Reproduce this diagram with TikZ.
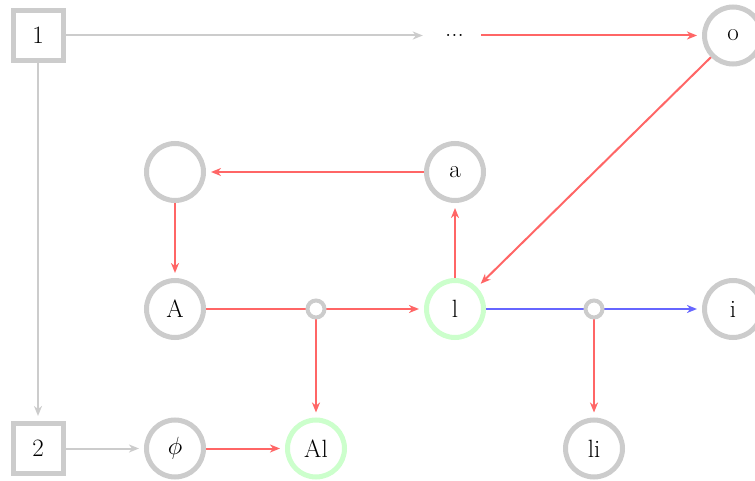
\documentclass[tikz,border=0pt]{standalone}
\usetikzlibrary{arrows.meta}
\definecolor{edgegray}{HTML}{CCCCCC}
\definecolor{flowred}{HTML}{FF6666}
\definecolor{flowblue}{HTML}{6666FF}
\definecolor{hilite}{HTML}{CCFFCC}
\begin{document}
\begin{tikzpicture}[x=1pt,y=-1pt,
  every node/.style={font=\fontsize{25}{30}\selectfont},
  state/.style={circle,draw=edgegray,line width=5pt,minimum size=57pt,inner sep=0pt,fill=white},
  goal/.style={state,draw=hilite},
  box/.style={rectangle,draw=edgegray,line width=5pt,minimum size=50pt,inner sep=0pt,fill=white},
  joint/.style={circle,draw=edgegray,line width=4pt,minimum size=17pt,inner sep=0pt,fill=white},
  plain/.style={circle,minimum size=53pt,inner sep=0pt},
  tip/.style={-{Stealth[length=10pt,width=8pt,inset=3pt]},shorten >=5pt},
  gline/.style={draw=edgegray,line width=2pt,tip},
  rline/.style={draw=flowred,line width=2pt,tip},
  bline/.style={draw=flowblue,line width=2pt,tip},
  rseg/.style={draw=flowred,line width=2pt},
  bseg/.style={draw=flowblue,line width=2pt}]
\useasboundingbox (0,0) rectangle (755,481);

% nodes
\node[box]   (n1)   at (38,35.5)  {1};
\node[plain] (dots) at (454.5,35.5) {...};
\node[state] (o)    at (733,35.5) {o};
\node[state] (e)    at (175,172)  {};
\node[state] (a)    at (455,172)  {a};
\node[state] (A)    at (175,309)  {A};
\node[goal]  (l)    at (455,309)  {l};
\node[state] (i)    at (733,309)  {i};
\node[box]   (n2)   at (38,448.5) {2};
\node[state] (phi)  at (175,448.5) {$\phi$};
\node[goal]  (Al)   at (316,448.5) {Al};
\node[state] (li)   at (594,448.5) {li};

% connectors
\draw[gline] (n1) -- (dots);
\draw[gline] (n1) -- (n2);
\draw[gline] (n2) -- (phi);
\draw[rline] (dots) -- (o);
\draw[rline] (o) -- (l);
\draw[rline] (a) -- (e);
\draw[rline] (e) -- (A);
\draw[rline] (phi) -- (Al);
\draw[rline] (l) -- (a);

\draw[rseg] (A.east) -- (316,309) coordinate (jA);
\draw[rline] (jA) -- (l);
\draw[rline] (jA) -- (Al);
\draw[bseg] (l.east) -- (594,309) coordinate (jl);
\draw[bline] (jl) -- (i);
\draw[rline] (jl) -- (li);

\node[joint] (j1) at (jA) {};
\node[joint] (j2) at (jl) {};
\end{tikzpicture}
\end{document}
